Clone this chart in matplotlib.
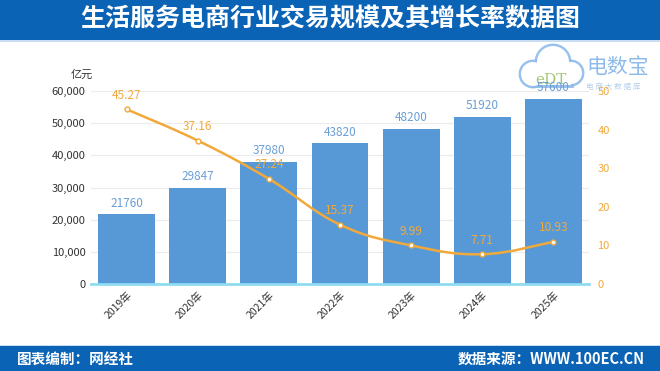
import matplotlib
matplotlib.use("Agg")
import matplotlib.pyplot as plt
from matplotlib.path import Path
from matplotlib.patches import PathPatch, Rectangle, Circle
import numpy as np

plt.rcParams['font.family'] = ['Noto Sans CJK SC', 'DejaVu Sans']

years = ["2019年", "2020年", "2021年", "2022年", "2023年", "2024年", "2025年"]
volume = [21760, 29847, 37980, 43820, 48200, 51920, 57600]
growth = [45.27, 37.16, 27.24, 15.37, 9.99, 7.71, 10.93]
growth_labels = ["45.27", "37.16", "27.24", "15.37", "9.99", "7.71", "10.93"]
left_ticks = [0, 10000, 20000, 30000, 40000, 50000, 60000]
right_ticks = [0, 10, 20, 30, 40, 50]

BLUE_BAND = "#0b63b5"
BAR = "#5799d6"
ORANGE = "#f2a93b"
LABEL_BLUE = "#6a9fd6"
LOGO_BLUE = "#8dbbea"

fig = plt.figure(figsize=(6.6, 3.71), dpi=100)
fig.patch.set_facecolor("white")

# background overlay in pixel coordinates
bg = fig.add_axes([0, 0, 1, 1], zorder=0)
bg.set_xlim(0, 660)
bg.set_ylim(371, 0)
bg.axis("off")
bg.add_patch(Rectangle((0, 0), 660, 40, color=BLUE_BAND, lw=0))
bg.add_patch(Rectangle((0, 40), 660, 1.5, color="#c9def2", lw=0))
bg.add_patch(Rectangle((0, 346), 660, 25, color=BLUE_BAND, lw=0))
bg.add_patch(Rectangle((0, 344.5), 660, 1.5, color="#c9def2", lw=0))
bg.text(330, 19, "生活服务电商行业交易规模及其增长率数据图", color="white",
        fontsize=18, fontweight="bold", ha="center", va="center")
bg.text(17, 358.5, "图表编制：网经社", color="white", fontsize=10.5,
        fontweight="bold", ha="left", va="center")
bg.text(645, 358.5, "数据来源：WWW.100EC.CN", color="white", fontsize=10.5,
        fontweight="bold", ha="right", va="center")

# watermark logo (cloud outline + text)
cloud = [(553, 62, 16), (533, 74, 12), (571, 73, 11)]
for cx, cy, r in cloud:
    bg.add_patch(Circle((cx, cy), r, facecolor="none", edgecolor=LOGO_BLUE, lw=3.5, alpha=0.9))
bg.add_patch(Rectangle((533, 74), 38, 11, facecolor="none", edgecolor=LOGO_BLUE, lw=3.5, alpha=0.9))
for cx, cy, r in cloud:
    bg.add_patch(Circle((cx, cy), r, facecolor="white", edgecolor="none"))
bg.add_patch(Rectangle((533, 74), 38, 11, facecolor="white", edgecolor="none"))
bg.text(551, 80, "eDT", color="#8fbf5a", fontsize=11, ha="center", va="center",
        family="DejaVu Serif", alpha=0.85)
bg.text(586, 67, "电数宝", color=LOGO_BLUE, fontsize=15, ha="left", va="center")
bg.text(586, 87, "电 商 大 数 据 库", color="#b5d0ec", fontsize=5.5, ha="left", va="center")

ax = fig.add_axes([91 / 660, 1 - 284 / 371, 498 / 660, 193 / 371], zorder=2)
ax.patch.set_alpha(0)
x = np.arange(len(years))
ax.bar(x, volume, width=0.8, color=BAR, zorder=2)
for xi, v in zip(x, volume):
    ax.text(xi, v + 1400, str(v), ha="center", va="bottom", color=LABEL_BLUE, fontsize=8.5, zorder=5)
ax.set_xlim(-0.5, len(years) - 0.5)
ax.set_ylim(0, 60000)
ax.set_yticks(left_ticks)
ax.set_yticklabels([f"{t:,}" for t in left_ticks], fontsize=8, color="#333333")
ax.set_xticks(x)
ax.set_xticklabels(years, rotation=45, ha="right", rotation_mode="anchor", fontsize=7.5, color="#333333")
ax.tick_params(axis="both", length=0, pad=4)
ax.grid(axis="y", color="#ececec", linewidth=0.8, zorder=0)
for s in ["top", "right", "left"]:
    ax.spines[s].set_visible(False)
ax.spines["bottom"].set_color("#8fdcf2")
ax.spines["bottom"].set_linewidth(2)
ax.spines["bottom"].set_zorder(4)
ax.text(-0.63, 63500, "亿元", fontsize=8, color="#333333", ha="center", va="bottom")

ax2 = ax.twinx()
ax2.set_ylim(0, 50)
ax2.set_yticks(right_ticks)
ax2.set_yticklabels([str(t) for t in right_ticks], fontsize=8, color=ORANGE)
ax2.tick_params(axis="y", length=0, pad=6)
for s in ["top", "right", "left", "bottom"]:
    ax2.spines[s].set_visible(False)

# smooth curve through the growth points (Catmull-Rom -> cubic Bezier)
pts = np.column_stack([x, growth]).astype(float)
verts = [tuple(pts[0])]
codes = [Path.MOVETO]
n = len(pts)
t = 0.2
for i in range(n - 1):
    p0 = pts[i - 1] if i > 0 else pts[i]
    p1 = pts[i]
    p2 = pts[i + 1]
    p3 = pts[i + 2] if i + 2 < n else pts[i + 1]
    c1 = p1 + (p2 - p0) * t
    c2 = p2 - (p3 - p1) * t
    verts += [tuple(c1), tuple(c2), tuple(p2)]
    codes += [Path.CURVE4] * 3
ax2.add_patch(PathPatch(Path(verts, codes), facecolor="none", edgecolor=ORANGE, lw=1.8, zorder=3))
ax2.plot(x, growth, linestyle="none", marker="o", markersize=3.5, markerfacecolor="white",
         markeredgecolor=ORANGE, markeredgewidth=1, zorder=4)
for xi, g, lab in zip(x, growth, growth_labels):
    ax2.text(xi, g + 2, lab, ha="center", va="bottom", color=ORANGE, fontsize=8.5, zorder=5)

fig.savefig("out.png", dpi=100)
